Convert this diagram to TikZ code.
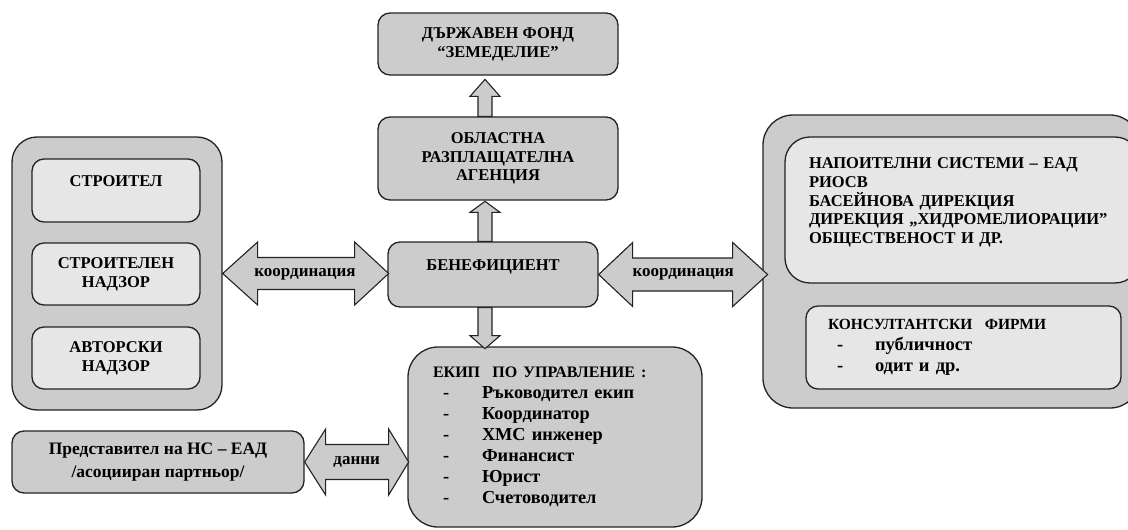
\documentclass[tikz,border=0pt]{standalone}
\usepackage{fontspec}
\setmainfont{Liberation Serif}
\usetikzlibrary{calc}
\definecolor{boxgray}{RGB}{204,204,204}
\definecolor{innergray}{RGB}{230,230,230}
\definecolor{linegray}{RGB}{35,35,35}
\begin{document}
\begin{tikzpicture}[x=1pt, y=-1pt,
  font=\bfseries\fontsize{16.5}{18.7}\selectfont,
  box/.style={draw=linegray, line width=1.3pt, fill=boxgray, rounded corners=12pt, inner sep=0pt, align=center},
  inner/.style={box, fill=innergray},
  fatarrow/.style={draw=linegray, line width=1.1pt, fill=boxgray, line join=miter},
  arrowtext/.style={font=\bfseries\fontsize{17}{20}\selectfont}]
  \useasboundingbox (0,0) rectangle (1128,530);

  %-------------
  \node[box, minimum width=240pt, minimum height=62pt] (fond) at (498,44) {ДЪРЖАВЕН ФОНД\\“ЗЕМЕДЕЛИЕ”};
  \node[box, minimum width=240pt, minimum height=83pt] (ora) at (498,158.5) {ОБЛАСТНА\\РАЗПЛАЩАТЕЛНА\\АГЕНЦИЯ};
  \node[box, minimum width=210pt, minimum height=65pt] (ben) at (493,274.5) {БЕНЕФИЦИЕНТ\\ \mbox{}};

  %-------------
  \node[box, rounded corners=25pt, minimum width=210pt, minimum height=273pt] (outerL) at (117,273.5) {};
  \node[inner, minimum width=168pt, minimum height=63pt] (stroitel) at (116,190.5) {СТРОИТЕЛ\\ \mbox{}};
  \node[inner, minimum width=168pt, minimum height=62pt] (nadzor) at (116,274) {СТРОИТЕЛЕН\\НАДЗОР};
  \node[inner, minimum width=168pt, minimum height=62pt] (avtor) at (116,358) {АВТОРСКИ\\НАДЗОР};

  %-------------
  \node[box, rounded corners=30pt, minimum width=377pt, minimum height=293pt] (outerR) at (951.5,261.5) {};
  \node[inner, rounded corners=25pt, minimum width=355pt, minimum height=146pt, text width=307pt, align=left] (napoitelni) at (962.5,210)
    {НАПОИТЕЛНИ СИСТЕМИ – ЕАД\\РИОСВ\\БАСЕЙНОВА ДИРЕКЦИЯ\\ДИРЕКЦИЯ „ХИДРОМЕЛИОРАЦИИ”\\ОБЩЕСТВЕНОСТ И ДР.\\ \mbox{}};
  \node[inner, minimum width=315pt, minimum height=83pt, text width=271pt, align=left, font=\bfseries\fontsize{18.5}{21}\selectfont] (konsult) at (963.5,347.5)
    {{\fontsize{15.5}{18}\selectfont КОНСУЛТАНТСКИ\ \ ФИРМИ}\\
     \hspace*{9pt}\makebox[38pt][l]{-}публичност\\
     \hspace*{9pt}\makebox[38pt][l]{-}одит и др.};

  %-------------
  \node[box, rounded corners=30pt, minimum width=294pt, minimum height=180pt, text width=244pt, align=left, font=\bfseries\fontsize{18.3}{21}\selectfont] (ekip) at (555,437)
    {{\fontsize{16}{19}\selectfont ЕКИП\ \ ПО УПРАВЛЕНИЕ :}\\
     \hspace*{10pt}\makebox[39pt][l]{-}Ръководител екип\\
     \hspace*{10pt}\makebox[39pt][l]{-}Координатор\\
     \hspace*{10pt}\makebox[39pt][l]{-}ХМС инженер\\
     \hspace*{10pt}\makebox[39pt][l]{-}Финансист\\
     \hspace*{10pt}\makebox[39pt][l]{-}Юрист\\
     \hspace*{10pt}\makebox[39pt][l]{-}Счетоводител};
  \node[box, minimum width=292pt, minimum height=62pt, font=\bfseries\fontsize{17.5}{23}\selectfont] (nsrep) at (158,462)
    {Представител на НС – ЕАД\\/асоцииран партньор/};

  %------------- arrows
  \draw[fatarrow] ([xshift=-13pt]ora.north) -- ++(-7,0) -- ++(0,-20) -- ++(-8,0) -- ++(15,-17) -- ++(15,17) -- ++(-8,0) -- ++(0,20) -- cycle;
  \draw[fatarrow] ([xshift=-8pt]ben.north) -- ++(-7,0) -- ++(0,-29) -- ++(-8,0) -- ++(15,-11) -- ++(15,11) -- ++(-8,0) -- ++(0,29) -- cycle;
  \draw[fatarrow] ([xshift=-8pt]ben.south) -- ++(-7,0) -- ++(0,28) -- ++(-8,0) -- ++(15,13) -- ++(15,-13) -- ++(-8,0) -- ++(0,-28) -- cycle;

  \draw[fatarrow] (outerL.east) -- ++(35,-31.5) -- ++(0,15.5) -- ++(97,0) -- ++(0,-15.5) -- ++(34,31.5) -- ++(-34,31.5) -- ++(0,-15.5) -- ++(-97,0) -- ++(0,15.5) -- cycle;
  \node[arrowtext] (koordL) at ($(outerL.east)!0.5!(ben.west)$) {координация};

  \draw[fatarrow] (ben.east) -- ++(34,-32) -- ++(0,15.5) -- ++(100,0) -- ++(0,-15.5) -- ++(35,32) -- ++(-35,32) -- ++(0,-15.5) -- ++(-100,0) -- ++(0,15.5) -- cycle;
  \node[arrowtext] (koordR) at ($(ben.east)+(84.5,0)$) {координация};

  \draw[fatarrow] (nsrep.east) -- ++(21,-33) -- ++(0,15.5) -- ++(63,0) -- ++(0,-15.5) -- ++(20,33) -- ++(-20,33) -- ++(0,-15.5) -- ++(-63,0) -- ++(0,15.5) -- cycle;
  \node[arrowtext] (danni) at ($(nsrep.east)+(52,0)$) {данни};

\end{tikzpicture}
\end{document}
